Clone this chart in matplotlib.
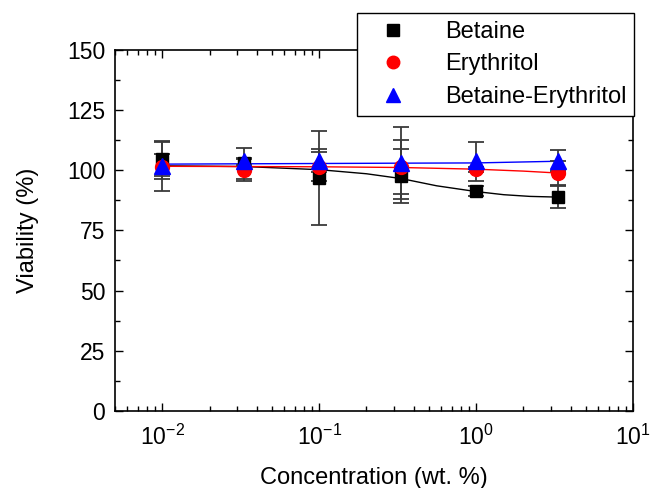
import matplotlib
matplotlib.use("Agg")
import matplotlib.pyplot as plt
from matplotlib.lines import Line2D
from matplotlib.ticker import MultipleLocator, LogLocator

plt.rcParams['font.family'] = ['Liberation Sans', 'DejaVu Sans']
plt.rcParams['mathtext.fontset'] = 'custom'
plt.rcParams['mathtext.rm'] = 'Liberation Sans'
plt.rcParams['mathtext.it'] = 'Liberation Sans:italic'

# measured points
conc = [0.01, 0.0333, 0.1, 0.333, 1.0, 3.33]
betaine = [104.5, 102.8, 96.8, 97.6, 91.4, 88.8]
betaine_err = [7.0, 6.6, 19.6, 11.3, 2.1, 4.5]
erythritol = [101.5, 100.1, 101.5, 101.2, 100.4, 98.8]
erythritol_err = [5.3, 4.5, 6.0, 11.2, 1.0, 5.0]
mix = [101.8, 103.6, 103.9, 103.0, 103.7, 104.0]
mix_err = [10.5, 1.5, 4.7, 15.1, 8.0, 4.2]

# fitted curves
fit_b_x = [0.01, 0.0333, 0.1, 0.2, 0.333, 0.56, 1.0, 1.5, 2.2, 3.33]
fit_b_y = [101.8, 101.5, 100.2, 98.5, 96.5, 93.5, 91.1, 89.8, 89.1, 88.8]
fit_e_x = [0.01, 0.1, 0.333, 1.0, 2.0, 3.33]
fit_e_y = [101.6, 101.4, 101.1, 100.4, 99.6, 98.8]
fit_m_x = [0.01, 0.333, 1.0, 3.33]
fit_m_y = [102.5, 102.9, 103.0, 103.7]

fig = plt.figure(figsize=(6.5, 4.88), dpi=100)
ax = fig.add_axes([0.177, 0.158, 0.797, 0.74])

ax.plot(fit_b_x, fit_b_y, color='black', lw=1)
ax.plot(fit_e_x, fit_e_y, color='red', lw=1)
ax.plot(fit_m_x, fit_m_y, color='blue', lw=1)

ebkw = dict(ecolor='#3a3a3a', elinewidth=1.3, capsize=6, capthick=1.3, ls='none')
ax.errorbar(conc, betaine, yerr=betaine_err, marker='s', ms=9, color='black', **ebkw)
ax.errorbar(conc, erythritol, yerr=erythritol_err, marker='o', ms=10, color='red', **ebkw)
ax.errorbar(conc, mix, yerr=mix_err, marker='^', ms=11, color='blue', **ebkw)

ax.set_xscale('log')
ax.set_xlim(0.005, 10)
ax.set_ylim(0, 150)
ax.yaxis.set_major_locator(MultipleLocator(25))
ax.yaxis.set_minor_locator(MultipleLocator(12.5))
ax.xaxis.set_major_locator(LogLocator(base=10, numticks=10))
ax.xaxis.set_minor_locator(LogLocator(base=10, subs=range(2, 10), numticks=10))
ax.tick_params(which='both', direction='in', top=True, right=True, labelsize=16.5, width=1)
ax.tick_params(which='major', length=6)
ax.tick_params(which='minor', length=3.5)
ax.tick_params(axis='x', pad=10)
ax.tick_params(axis='y', pad=7)
for s in ax.spines.values():
    s.set_linewidth(1.2)

ax.set_xlabel('Concentration (wt. %)', fontsize=17, labelpad=12)
ax.set_ylabel('Viability (%)', fontsize=17, labelpad=20)

handles = [
    Line2D([], [], ls='none', marker='s', ms=8, color='black'),
    Line2D([], [], ls='none', marker='o', ms=9, color='red'),
    Line2D([], [], ls='none', marker='^', ms=10, color='blue'),
]
names = ['Betaine', 'Erythritol', 'Betaine-Erythritol']
leg = ax.legend(handles, names, loc='upper left', bbox_to_anchor=(357 / 650, 1 - 13 / 488),
                bbox_transform=fig.transFigure, fontsize=17, frameon=True,
                fancybox=False, edgecolor='black', framealpha=1, borderpad=0.33,
                labelspacing=0.45, handletextpad=1.0, borderaxespad=0,
                handlelength=2.4)
leg.get_frame().set_linewidth(1.0)

fig.savefig('out.png', dpi=100)
